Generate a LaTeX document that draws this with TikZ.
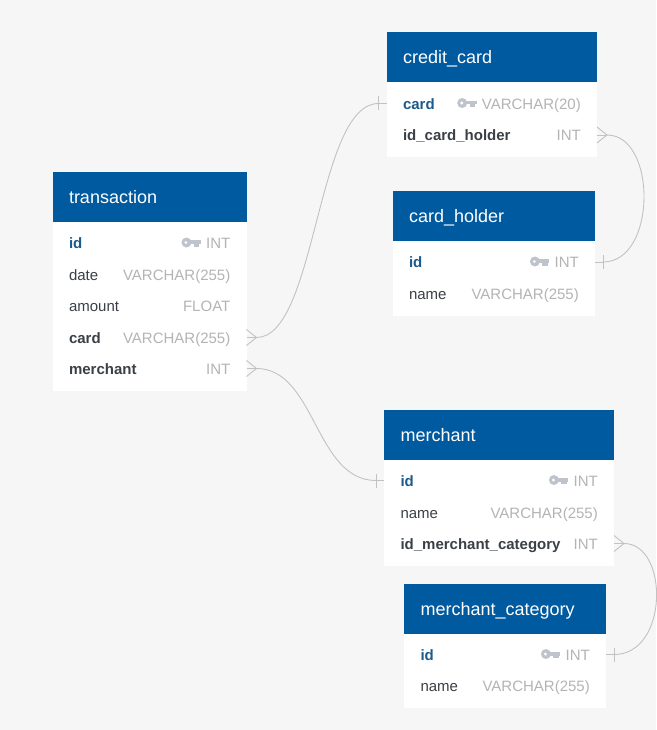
\documentclass[tikz,border=0pt]{standalone}
\usepackage{fontspec}
\setmainfont{Liberation Sans}
\definecolor{bgc}{HTML}{F6F6F7}
\definecolor{hdr}{HTML}{005A9F}
\definecolor{keyc}{HTML}{BFC4CC}
\definecolor{typec}{HTML}{B4B4B4}
\definecolor{namec}{HTML}{3B4046}
\definecolor{pkc}{HTML}{1B5A8C}
\definecolor{linec}{HTML}{C2C2C2}
\tikzset{
  x=1pt,y=-1pt,
  tablehead/.style={fill=hdr,inner sep=0pt,outer sep=0pt,anchor=north west},
  tablebody/.style={fill=white,inner sep=0pt,outer sep=0pt,anchor=north west},
  rowname/.style={inner sep=0pt,anchor=mid west,text=namec,font=\fontsize{15}{17}\selectfont},
  rowkey/.style={rowname,text=namec,font=\fontsize{15}{17}\selectfont\bfseries},
  rowpk/.style={rowname,text=pkc,font=\fontsize{15}{17}\selectfont\bfseries},
  rowtype/.style={inner sep=0pt,anchor=mid east,text=typec,font=\fontsize{15}{17}\selectfont},
  rowanchor/.style={inner sep=0pt,outer sep=0pt,minimum height=1pt,anchor=west},
  conn/.style={draw=linec,line width=0.9pt},
  endmark/.style={draw=linec,line width=0.9pt}
}
% \tbl{id}{x0}{x1}{top}{headerbottom}{bottom}{title}
\newcommand{\tbl}[7]{%
  \node[tablebody,minimum width=#3pt-#2pt,minimum height=#6pt-#5pt] (#1-body) at (#2,#5) {};
  \node[tablehead,minimum width=#3pt-#2pt,minimum height=#5pt-#4pt] (#1) at (#2,#4) {};
  \node[inner sep=0pt,anchor=mid west,text=white,font=\fontsize{18}{20}\selectfont] (#1-title) at (#2+16.3,#4+28.5) {#7};
}
% \rw{id}{x0}{x1}{y}{style}{name}{type}
\newcommand{\rw}[7]{%
  \node[rowanchor,minimum width=#3pt-#2pt] (#1) at (#2,#4) {};
  \node[#5] (#1-name) at (#2+16.3,#4+3) {#6};
  \node[rowtype] (#1-type) at (#3-16,#4+3) {#7};
}
% key icon left of the type text of row #1
\newcommand{\keyat}[1]{%
  \coordinate (k) at (#1-type.west |- #1.center);
  \fill[keyc,even odd rule] ([xshift=-19.5pt,yshift=0.5pt]k) circle[radius=5] ([xshift=-20pt,yshift=0.5pt]k) circle[radius=1.8];
  \fill[keyc] ([xshift=-15.5pt,yshift=2.6pt]k) rectangle ([xshift=-5pt,yshift=-1pt]k);
  \fill[keyc] ([xshift=-12pt,yshift=0pt]k) rectangle ([xshift=-6.5pt,yshift=-3.8pt]k);
}
\newcommand{\crow}[1]{%
  \draw[endmark] ([yshift=8pt]#1.east) -- ([xshift=10pt]#1.east) -- ([yshift=-8pt]#1.east);
  \draw[endmark] (#1.east) -- ([xshift=10pt]#1.east);
}
\newcommand{\barE}[1]{%
  \draw[endmark] ([xshift=8pt,yshift=7pt]#1.east) -- ([xshift=8pt,yshift=-7pt]#1.east);
  \draw[endmark] (#1.east) -- ([xshift=8pt]#1.east);
}
\newcommand{\barW}[1]{%
  \draw[endmark] ([xshift=-8pt,yshift=7pt]#1.west) -- ([xshift=-8pt,yshift=-7pt]#1.west);
  \draw[endmark] (#1.west) -- ([xshift=-8pt]#1.west);
}
\begin{document}
\begin{tikzpicture}
\useasboundingbox (0,0) rectangle (656,730);
\fill[bgc] (0,0) rectangle (656,730);

\tbl{cc}{386.5}{597}{32.5}{82}{157.5}{credit\_card}
\rw{cc1}{386.5}{597}{103.5}{rowpk}{card}{VARCHAR(20)}
\rw{cc2}{386.5}{597}{135}{rowkey}{id\_card\_holder}{INT}
\keyat{cc1}

\tbl{ch}{392.5}{595}{191}{241}{316}{card\_holder}
\rw{ch1}{392.5}{595}{262}{rowpk}{id}{INT}
\rw{ch2}{392.5}{595}{294}{rowname}{name}{VARCHAR(255)}
\keyat{ch1}

\tbl{tr}{52.5}{246.5}{172.5}{222}{391}{transaction}
\rw{tr1}{52.5}{246.5}{243}{rowpk}{id}{INT}
\rw{tr2}{52.5}{246.5}{274.5}{rowname}{date}{VARCHAR(255)}
\rw{tr3}{52.5}{246.5}{305.5}{rowname}{amount}{FLOAT}
\rw{tr4}{52.5}{246.5}{337.5}{rowkey}{card}{VARCHAR(255)}
\rw{tr5}{52.5}{246.5}{368.5}{rowkey}{merchant}{INT}
\keyat{tr1}

\tbl{me}{384}{614}{410}{460}{566}{merchant}
\rw{me1}{384}{614}{480.5}{rowpk}{id}{INT}
\rw{me2}{384}{614}{512.5}{rowname}{name}{VARCHAR(255)}
\rw{me3}{384}{614}{543.5}{rowkey}{id\_merchant\_category}{INT}
\keyat{me1}

\tbl{mc}{404}{606}{584}{633.5}{708}{merchant\_category}
\rw{mc1}{404}{606}{654.5}{rowpk}{id}{INT}
\rw{mc2}{404}{606}{686}{rowname}{name}{VARCHAR(255)}
\keyat{mc1}

\draw[conn] ([xshift=10pt]tr4.east) .. controls ([xshift=70pt]tr4.east) and ([xshift=-70pt]cc1.west) .. ([xshift=-8pt]cc1.west);
\draw[conn] ([xshift=10pt]tr5.east) .. controls ([xshift=69pt]tr5.east) and ([xshift=-69pt]me1.west) .. ([xshift=-8pt]me1.west);
\draw[conn] ([xshift=10pt]cc2.east) .. controls ([xshift=60pt]cc2.east) and ([xshift=62pt]ch1.east) .. ([xshift=8pt]ch1.east);
\draw[conn] ([xshift=10pt]me3.east) .. controls ([xshift=55pt]me3.east) and ([xshift=63pt]mc1.east) .. ([xshift=8pt]mc1.east);

\crow{tr4}\crow{tr5}\crow{cc2}\crow{me3}
\barW{cc1}\barW{me1}\barE{ch1}\barE{mc1}
\end{tikzpicture}
\end{document}
